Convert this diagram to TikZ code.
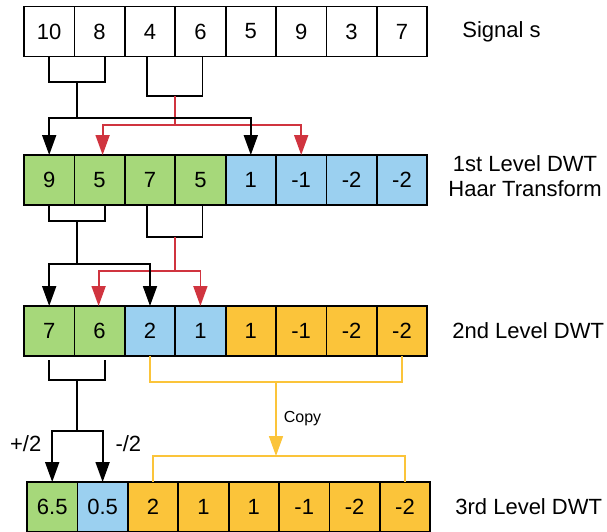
\documentclass[tikz,border=0pt]{standalone}
\usepackage{fontspec}
\setmainfont{Liberation Sans}
\usepackage{tikz}
\usetikzlibrary{arrows.meta, positioning, calc}
\definecolor{haargreen}{HTML}{A6D87A}
\definecolor{haarblue}{HTML}{9BD0F0}
\definecolor{haarorange}{HTML}{FBC43A}
\definecolor{haarred}{HTML}{D0343F}

\begin{document}
\begin{tikzpicture}[
    x=1pt, y=-1pt,
    cell/.style={draw, rectangle, line width=1.8pt, minimum width=50.4pt, minimum height=50pt, inner sep=0pt, outer sep=0pt, font=\fontsize{22}{25}\selectfont},
    sig/.style={cell, fill=white},
    low/.style={cell, fill=haargreen},
    high/.style={cell, fill=haarblue},
    kept/.style={cell, fill=haarorange},
    level/.style={inner sep=0pt, align=center, font=\fontsize{22}{25}\selectfont},
    node distance=0pt,
    bracket/.style={line width=1.8pt},
    arrow/.style={-{Triangle[width=14pt, length=20pt]}, line width=1.8pt},
    copyline/.style={haarorange, line width=1.6pt}
]
    \useasboundingbox (0,0) rectangle (607,531);

    % Nodes
    \node[sig] (s1) at (49.2,31.5) {10};
    \node[sig, right=of s1] (s2) {8};
    \node[sig, right=of s2] (s3) {4};
    \node[sig, right=of s3] (s4) {6};
    \node[sig, right=of s4] (s5) {5};
    \node[sig, right=of s5] (s6) {9};
    \node[sig, right=of s6] (s7) {3};
    \node[sig, right=of s7] (s8) {7};

    \node[low] (one1) at (49.2,180) {9};
    \node[low, right=of one1] (one2) {5};
    \node[low, right=of one2] (one3) {7};
    \node[low, right=of one3] (one4) {5};
    \node[high, right=of one4] (one5) {1};
    \node[high, right=of one5] (one6) {-1};
    \node[high, right=of one6] (one7) {-2};
    \node[high, right=of one7] (one8) {-2};

    \node[low] (two1) at (49.2,331) {7};
    \node[low, right=of two1] (two2) {6};
    \node[high, right=of two2] (two3) {2};
    \node[high, right=of two3] (two4) {1};
    \node[kept, right=of two4] (two5) {1};
    \node[kept, right=of two5] (two6) {-1};
    \node[kept, right=of two6] (two7) {-2};
    \node[kept, right=of two7] (two8) {-2};

    \node[low] (three1) at (52.2,507) {6.5};
    \node[high, right=of three1] (three2) {0.5};
    \node[kept, right=of three2] (three3) {2};
    \node[kept, right=of three3] (three4) {1};
    \node[kept, right=of three4] (three5) {1};
    \node[kept, right=of three5] (three6) {-1};
    \node[kept, right=of three6] (three7) {-2};
    \node[kept, right=of three7] (three8) {-2};

    % Labels
    \node[level] (sig_lbl) [right=35pt of s8] {Signal s};
    \node[level] (lvl1_lbl) [right=21pt of one8, yshift=4pt] {1st Level DWT \\ Haar Transform};
    \node[level] (lvl2_lbl) [right=25pt of two8] {2nd Level DWT};
    \node[level] (lvl3_lbl) [right=25pt of three8] {3rd Level DWT};

    % Junctions
    \coordinate (s12_mid) at (77,82);
    \coordinate (s12_fork) at (77,118);
    \coordinate (s34_mid) at (175,96);
    \coordinate (s34_fork) at (175,125);
    \coordinate (o12_mid) at (77,221);
    \coordinate (o12_fork) at (77,264);
    \coordinate (o34_mid) at (175,237);
    \coordinate (o34_fork) at (175,271);
    \coordinate (t12_mid) at (77,380);
    \coordinate (t12_fork) at (77,431);
    \coordinate (copy_top) at (276,382);
    \coordinate (copy_bot) at (276,456);

    % Signal -> 1st level
    \draw[bracket] (s1.south) |- (s12_mid) -| ([xshift=5pt]s2.south);
    \draw[bracket] ([xshift=-3pt]s3.south) |- (s34_mid) -| ([xshift=2pt]s4.south);
    \draw[arrow, haarred] (s34_mid) -- (s34_fork) -| ([xshift=3pt]one2.north);
    \draw[arrow, haarred] (s34_fork) -| (one6.north);
    \draw[arrow] (s12_mid) -- (s12_fork) -| (one1.north);
    \draw[arrow] (s12_fork) -| (one5.north);

    % 1st level -> 2nd level
    \draw[bracket] (one1.south) |- (o12_mid) -| ([xshift=5pt]one2.south);
    \draw[bracket] ([xshift=-3pt]one3.south) |- (o34_mid) -| ([xshift=2pt]one4.south);
    \draw[arrow, haarred] (o34_mid) -- (o34_fork) -| ([xshift=-1pt]two2.north);
    \draw[arrow, haarred] (o34_fork) -| (two4.north);
    \draw[arrow] (o12_mid) -- (o12_fork) -| (two1.north);
    \draw[arrow] (o12_fork) -| (two3.north);

    % 2nd level -> 3rd level
    \draw[bracket] ([yshift=-4pt]two1.south) |- (t12_mid) -| ([xshift=5pt, yshift=-4pt]two2.south);
    \draw[arrow] (t12_mid) -- (t12_fork) -| node[pos=0.62, left=10pt, inner sep=0pt, font=\fontsize{22}{25}\selectfont] {+/2} (three1.north);
    \draw[arrow] (t12_fork) -| node[pos=0.62, right=12pt, inner sep=0pt, font=\fontsize{22}{25}\selectfont] {-/2} (three2.north);

    % Copy of detail coefficients
    \draw[copyline] (two3.south) |- (copy_top) -| (two8.south);
    \draw[arrow, copyline] (copy_top) -- node[right=7pt, inner sep=0pt, black, font=\fontsize{16}{19}\selectfont] {Copy} (copy_bot);
    \draw[copyline] (three3.north) |- (copy_bot) -| (three8.north);
\end{tikzpicture}
\end{document}
